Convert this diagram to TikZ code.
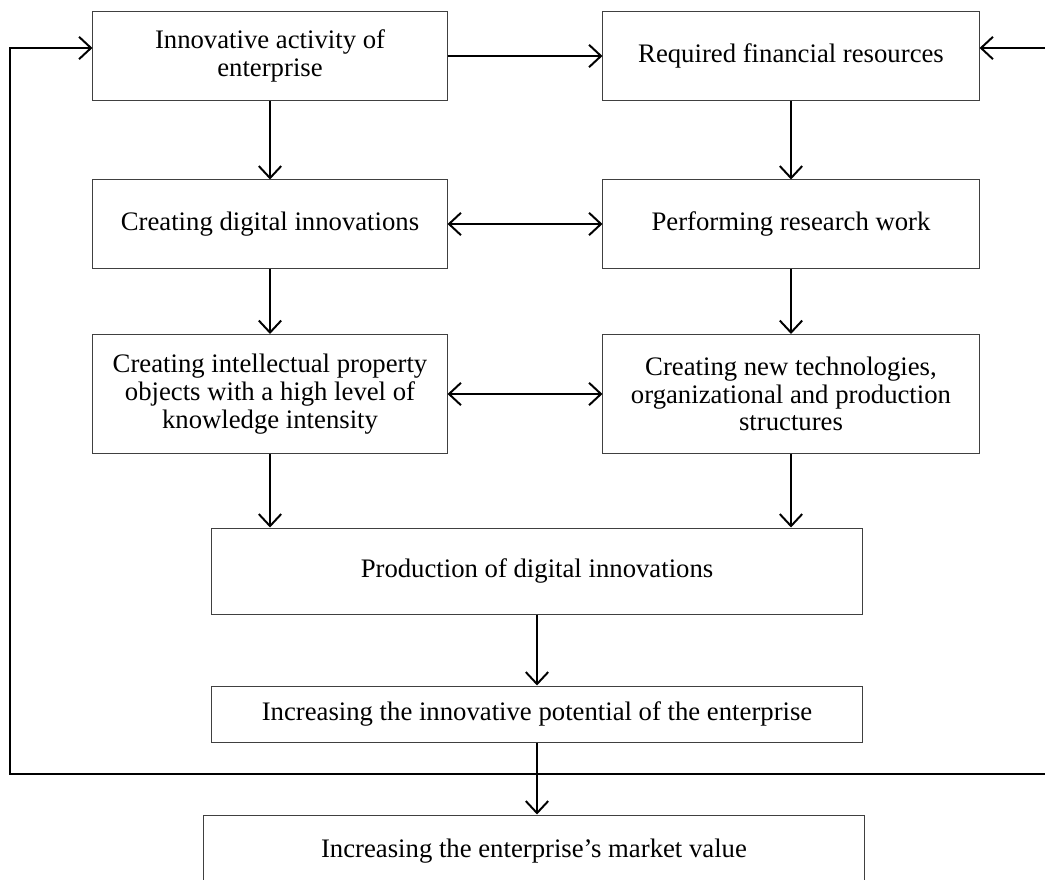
\documentclass[tikz,border=0pt]{standalone}
\usepackage{fontspec}
\setmainfont{Liberation Serif}
\usetikzlibrary{arrows.meta, positioning, calc}

\tikzset{
	box/.style={draw=black!75, line width=.7pt, minimum width=8.85cm, minimum height=2.2cm, align=center, inner sep=2pt},
	wbox/.style={box, minimum width=9.4cm},
	link/.style={->, line width=1.4pt},
	dlink/.style={<->, line width=1.4pt}
}

\begin{document}
\begin{tikzpicture}[x=0.025cm, y=-0.025cm, >={Straight Barb[length=3mm, width=5.6mm]}]
	\fontsize{19}{19.8}\selectfont
	\useasboundingbox (0,0) rectangle (1045,880);
	\clip (0,0) rectangle (1045,880);

	% --- top row ---
	\node[box]  (act) at (270,56)  {Innovative activity of\\enterprise};
	\node[wbox] (fin) at (791,56)  {Required financial resources};
	% --- second row ---
	\node[box]  (dig) at (270,224) {Creating digital innovations};
	\node[wbox] (res) at (791,224) {Performing research work};
	% --- third row ---
	\node[box, minimum height=2.975cm]  (ipo) at (270,394) {Creating intellectual property\\objects with a high level of\\knowledge intensity};
	\node[wbox, minimum height=2.975cm] (tec) at (791,394) {Creating new technologies,\\organizational and production\\structures};
	% --- lower part ---
	\node[box, minimum width=16.25cm, minimum height=2.15cm] (prod) at (537,571) {Production of digital innovations};
	\node[box, minimum width=16.25cm, minimum height=1.4cm]  (pot)  at (537,714) {Increasing the innovative potential of the enterprise};
	\node[box, minimum width=16.5cm, minimum height=1.8cm]   (mv)   at (534,851) {Increasing the enterprise’s market value};

	\coordinate (fbL) at (10,774);
	\coordinate (fbR) at (1045,774);
	\coordinate (inL) at (0,48);
	\coordinate (inR) at (1045,48);

	% --- connectors ---
	\draw[link] (act) -- (fin);
	\draw[link] (act) -- (dig);
	\draw[link] (fin) -- (res);
	\draw[dlink] (dig) -- (res);
	\draw[link] (dig) -- (ipo);
	\draw[link] (res) -- (tec);
	\draw[dlink] (ipo) -- (tec);
	\draw[link] (ipo.south) -- (ipo.south |- prod.north);
	\draw[link] (tec.south) -- (tec.south |- prod.north);
	\draw[link] (prod) -- (pot);
	\draw[link] (pot.south) -- (pot.south |- mv.north);

	% --- feedback ---
	\draw[link] (fbR) -- (fbL) |- (act.west |- inL);
	\draw[link] (inR) -- (fin.east |- inR);
\end{tikzpicture}
\end{document}
